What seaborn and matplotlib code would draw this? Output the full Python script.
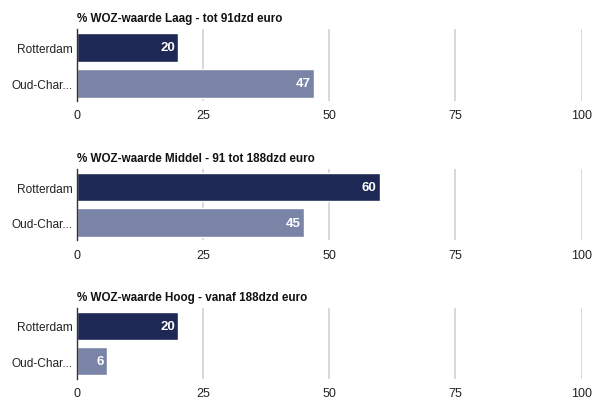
import matplotlib
matplotlib.use("Agg")
import matplotlib.pyplot as plt
import seaborn as sns
import pandas as pd

# Data
areas = ["Rotterdam", "Oud-Char..."]
titles = [
    "% WOZ-waarde Laag - tot 91dzd euro",
    "% WOZ-waarde Middel - 91 tot 188dzd euro",
    "% WOZ-waarde Hoog - vanaf 188dzd euro",
]
laag = [20, 47]
middel = [60, 45]
hoog = [20, 6]
x_ticks = [0, 25, 50, 75, 100]

sns.set_theme(style="white")
plt.rcParams["font.family"] = ["Liberation Sans", "DejaVu Sans"]

colors = ["#1d2854", "#7a84a6"]
fig = plt.figure(figsize=(5.96, 4.02), dpi=100)

# axes boxes: [left, bottom, width, height] in figure fractions
boxes = [
    [0.129, 0.746, 0.847, 0.179],
    [0.129, 0.400, 0.847, 0.176],
    [0.129, 0.055, 0.847, 0.176],
]

for box, title, vals in zip(boxes, titles, [laag, middel, hoog]):
    ax = fig.add_axes(box)
    df = pd.DataFrame({"gebied": areas, "waarde": vals})
    sns.barplot(data=df, x="waarde", y="gebied", hue="gebied", palette=colors,
                order=areas, hue_order=areas, width=0.8, legend=False, ax=ax,
                saturation=1)
    ax.set_xlim(0, 100)
    ax.set_ylim(1.5, -0.5)
    for t in x_ticks[1:]:
        ax.axvline(t, color="#d6d6d6", lw=1.3, zorder=0)
    ax.set_xticks(x_ticks)
    ax.set_xticklabels([str(t) for t in x_ticks])
    ax.tick_params(axis="both", length=0, colors="#222222")
    ax.tick_params(axis="x", pad=6, labelsize=9)
    ax.tick_params(axis="y", pad=3, labelsize=8.6)
    ax.set_xlabel("")
    ax.set_ylabel("")
    for s in ["top", "right", "bottom"]:
        ax.spines[s].set_visible(False)
    ax.spines["left"].set_color("#333333")
    ax.spines["left"].set_linewidth(1)
    for i, v in enumerate(vals):
        ax.text(v - 0.6, i, str(v), ha="right", va="center", color="white",
                fontsize=9.5, fontweight="bold")
    ax.set_title(title, loc="left", fontsize=8.4, fontweight="bold",
                 color="#111111", pad=6, x=0.0)

fig.savefig("out.png", dpi=100)
